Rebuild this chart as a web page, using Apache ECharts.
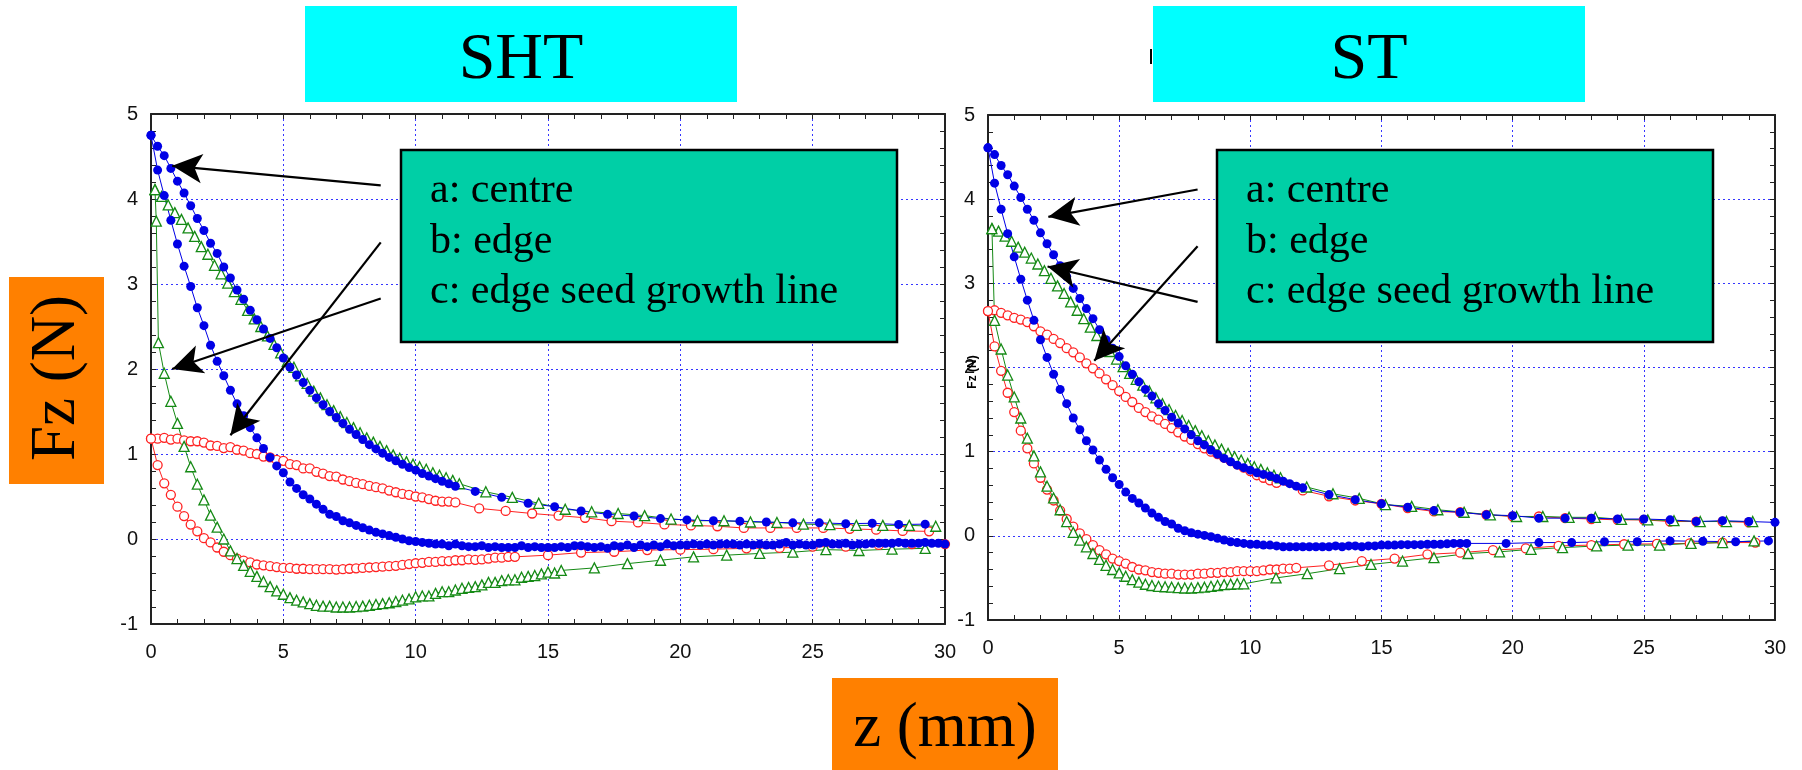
<!DOCTYPE html>
<html>
<head>
<meta charset="utf-8">
<script src="https://cdn.jsdelivr.net/npm/echarts/dist/echarts.min.js"></script>
<style>
  html, body { margin: 0; padding: 0; background: #fff; }
  #chart { width: 1802px; height: 770px; }
</style>
</head>
<body>
<div id="chart"></div>
<script>
// z (mm), Fz (N) pairs
const shtBlueSlow = [[0,4.75],[0.25,4.62],[0.5,4.51],[0.75,4.36],[1,4.21],[1.25,4.07],[1.5,3.92],[1.75,3.77],[2,3.63],[2.25,3.48],[2.5,3.36],[2.75,3.2],[3,3.07],[3.25,2.93],[3.5,2.82],[3.75,2.69],[4,2.58],[4.25,2.47],[4.5,2.36],[4.75,2.25],[5,2.13],[5.25,2.02],[5.5,1.93],[5.75,1.84],[6,1.75],[6.25,1.66],[6.5,1.58],[6.75,1.5],[7,1.43],[7.25,1.36],[7.5,1.29],[7.75,1.23],[8,1.17],[8.25,1.11],[8.5,1.06],[8.75,1.01],[9,0.96],[9.25,0.92],[9.5,0.88],[9.75,0.84],[10,0.81],[10.25,0.77],[10.5,0.74],[10.75,0.71],[11,0.68],[11.25,0.65],[11.5,0.62],[12.25,0.56],[13.25,0.49],[14.25,0.42],[15.25,0.38],[16.25,0.33],[17.25,0.29],[18.25,0.27],[19.25,0.24],[20.25,0.225],[21.25,0.215],[22.25,0.21],[23.25,0.2],[24.25,0.19],[25.25,0.19],[26.25,0.18],[27.25,0.185],[28.25,0.17],[29.25,0.175]];
const shtBlueFast = [[0,4.75],[0.25,4.34],[0.5,4.04],[0.75,3.75],[1,3.47],[1.25,3.21],[1.5,2.97],[1.75,2.72],[2,2.51],[2.25,2.28],[2.5,2.09],[2.75,1.92],[3,1.75],[3.25,1.59],[3.5,1.45],[3.75,1.31],[4,1.19],[4.25,1.065],[4.5,0.96],[4.75,0.86],[5,0.78],[5.25,0.67],[5.5,0.595],[5.75,0.52],[6,0.47],[6.25,0.41],[6.5,0.35],[6.75,0.29],[7,0.265],[7.25,0.215],[7.5,0.19],[7.75,0.16],[8,0.133],[8.25,0.105],[8.5,0.078],[8.75,0.06],[9,0.04],[9.25,0.02],[9.5,0],[9.75,-0.02],[10,-0.03],[10.25,-0.04],[10.5,-0.05],[10.75,-0.06],[11,-0.06],[11.25,-0.08],[11.5,-0.06],[11.75,-0.08],[12,-0.09],[12.25,-0.09],[12.5,-0.08],[12.75,-0.1],[13,-0.09],[13.25,-0.1],[13.5,-0.1],[13.75,-0.1],[14,-0.08],[14.25,-0.1],[14.5,-0.09],[14.75,-0.1],[15,-0.1],[15.25,-0.1],[15.5,-0.09],[15.75,-0.1],[16,-0.08],[16.25,-0.08],[16.5,-0.09],[16.75,-0.1],[17,-0.09],[17.25,-0.11],[17.5,-0.08],[17.75,-0.09],[18,-0.07],[18.25,-0.1],[18.5,-0.07],[18.75,-0.09],[19,-0.07],[19.25,-0.09],[19.5,-0.06],[19.75,-0.08],[20,-0.07],[20.25,-0.07],[20.5,-0.06],[20.75,-0.07],[21,-0.06],[21.25,-0.07],[21.5,-0.06],[21.75,-0.06],[22,-0.06],[22.25,-0.07],[22.5,-0.06],[22.75,-0.07],[23,-0.06],[23.25,-0.07],[23.5,-0.07],[23.75,-0.06],[24,-0.04],[24.25,-0.07],[24.5,-0.06],[24.75,-0.07],[25,-0.07],[25.25,-0.05],[25.5,-0.04],[25.75,-0.06],[26,-0.06],[26.25,-0.05],[26.5,-0.07],[26.75,-0.06],[27,-0.06],[27.25,-0.05],[27.5,-0.05],[27.75,-0.05],[28,-0.05],[28.25,-0.04],[28.5,-0.05],[28.75,-0.05],[29,-0.05],[29.25,-0.04],[29.5,-0.05],[29.75,-0.05],[30,-0.06]];
const shtGreenSlow = [[0.15,4.11],[0.4,4.03],[0.65,3.93],[0.9,3.84],[1.15,3.76],[1.4,3.66],[1.65,3.56],[1.9,3.44],[2.15,3.35],[2.4,3.22],[2.65,3.12],[2.9,3.01],[3.15,2.91],[3.4,2.82],[3.65,2.69],[3.9,2.59],[4.15,2.5],[4.4,2.39],[4.65,2.29],[4.9,2.19],[5.15,2.09],[5.4,2.02],[5.65,1.92],[5.9,1.83],[6.15,1.74],[6.4,1.66],[6.65,1.58],[6.9,1.51],[7.15,1.44],[7.4,1.37],[7.65,1.31],[7.9,1.25],[8.15,1.19],[8.4,1.14],[8.65,1.09],[8.9,1.04],[9.15,0.99],[9.4,0.95],[9.65,0.91],[9.9,0.88],[10.15,0.85],[10.4,0.82],[10.65,0.78],[10.9,0.75],[11.15,0.72],[11.4,0.69],[11.65,0.65],[12.65,0.555],[13.65,0.49],[14.65,0.42],[15.65,0.35],[16.65,0.32],[17.65,0.3],[18.65,0.275],[19.65,0.235],[20.65,0.215],[21.65,0.215],[22.65,0.2],[23.65,0.195],[24.65,0.175],[25.65,0.17],[26.65,0.16],[27.65,0.16],[28.65,0.16],[29.65,0.15]];
const shtGreenFast = [[0.15,4.11],[0.2,3.74],[0.28,2.31],[0.5,1.95],[0.75,1.62],[1,1.36],[1.25,1.09],[1.5,0.85],[1.75,0.645],[2,0.46],[2.25,0.28],[2.5,0.14],[2.75,0],[3,-0.14],[3.25,-0.23],[3.5,-0.31],[3.75,-0.38],[4,-0.44],[4.25,-0.5],[4.5,-0.56],[4.75,-0.61],[5,-0.65],[5.25,-0.69],[5.5,-0.72],[5.75,-0.74],[6,-0.76],[6.25,-0.78],[6.5,-0.79],[6.75,-0.79],[7,-0.8],[7.25,-0.8],[7.5,-0.8],[7.75,-0.795],[8,-0.79],[8.25,-0.78],[8.5,-0.77],[8.75,-0.76],[9,-0.75],[9.25,-0.735],[9.5,-0.72],[9.75,-0.705],[10,-0.68],[10.25,-0.67],[10.5,-0.67],[10.75,-0.64],[11,-0.62],[11.25,-0.62],[11.5,-0.6],[11.75,-0.58],[12,-0.57],[12.25,-0.56],[12.5,-0.54],[12.75,-0.51],[13,-0.51],[13.25,-0.49],[13.5,-0.48],[13.75,-0.48],[14,-0.45],[14.25,-0.44],[14.5,-0.43],[14.75,-0.41],[15,-0.39],[15.25,-0.4],[15.5,-0.37],[16.75,-0.34],[18,-0.29],[19.25,-0.25],[20.5,-0.21],[21.75,-0.19],[23,-0.17],[24.25,-0.155],[25.5,-0.125],[26.75,-0.135],[28,-0.12],[29.25,-0.11]];
const shtRedSlow = [[0,1.18],[0.25,1.18],[0.5,1.19],[0.75,1.17],[1,1.18],[1.25,1.16],[1.5,1.15],[1.75,1.15],[2,1.135],[2.25,1.1],[2.5,1.095],[2.75,1.07],[3,1.08],[3.25,1.05],[3.5,1.04],[3.75,1.01],[4,1],[4.25,0.97],[4.5,0.96],[4.75,0.93],[5,0.92],[5.25,0.88],[5.5,0.87],[5.75,0.83],[6,0.83],[6.25,0.79],[6.5,0.77],[6.75,0.74],[7,0.735],[7.25,0.7],[7.5,0.68],[7.75,0.66],[8,0.645],[8.25,0.625],[8.5,0.61],[8.75,0.595],[9,0.57],[9.25,0.55],[9.5,0.53],[9.75,0.52],[10,0.5],[10.25,0.49],[10.5,0.47],[10.75,0.45],[11,0.44],[11.25,0.44],[11.5,0.43],[12.4,0.36],[13.4,0.33],[14.4,0.3],[15.4,0.275],[16.4,0.25],[17.4,0.21],[18.4,0.195],[19.4,0.172],[20.4,0.16],[21.4,0.15],[22.4,0.13],[23.4,0.13],[24.4,0.13],[25.4,0.13],[26.4,0.12],[27.4,0.11],[28.4,0.095],[29.4,0.09]];
const shtRedFast = [[0,1.18],[0.25,0.87],[0.5,0.655],[0.75,0.52],[1,0.38],[1.25,0.27],[1.5,0.17],[1.75,0.09],[2,0.01],[2.25,-0.04],[2.5,-0.1],[2.75,-0.15],[3,-0.19],[3.25,-0.23],[3.5,-0.255],[3.75,-0.275],[4,-0.3],[4.25,-0.31],[4.5,-0.32],[4.75,-0.33],[5,-0.34],[5.25,-0.34],[5.5,-0.35],[5.75,-0.35],[6,-0.355],[6.25,-0.355],[6.5,-0.355],[6.75,-0.355],[7,-0.36],[7.25,-0.355],[7.5,-0.35],[7.75,-0.345],[8,-0.34],[8.25,-0.335],[8.5,-0.33],[8.75,-0.325],[9,-0.32],[9.25,-0.315],[9.5,-0.305],[9.75,-0.295],[10,-0.285],[10.25,-0.28],[10.5,-0.27],[10.75,-0.27],[11,-0.26],[11.25,-0.26],[11.5,-0.25],[11.75,-0.25],[12,-0.24],[12.25,-0.245],[12.5,-0.24],[12.75,-0.23],[13,-0.22],[13.25,-0.22],[13.5,-0.21],[13.75,-0.21],[15,-0.19],[16.25,-0.16],[17.5,-0.15],[18.75,-0.13],[20,-0.125],[21.25,-0.12],[22.5,-0.11],[23.75,-0.105],[25,-0.09],[26.25,-0.09],[27.5,-0.07],[28.75,-0.06],[30,-0.06]];

const stBlueSlow = [[0,4.61],[0.25,4.53],[0.5,4.4],[0.75,4.29],[1,4.155],[1.25,4.02],[1.5,3.88],[1.75,3.75],[2,3.6],[2.25,3.47],[2.5,3.34],[2.75,3.21],[3,3.08],[3.25,2.94],[3.5,2.82],[3.75,2.7],[4,2.58],[4.25,2.45],[4.5,2.33],[4.75,2.23],[5,2.13],[5.25,2.02],[5.5,1.92],[5.75,1.83],[6,1.74],[6.25,1.66],[6.5,1.57],[6.75,1.49],[7,1.41],[7.25,1.34],[7.5,1.27],[7.75,1.2],[8,1.13],[8.25,1.08],[8.5,1.02],[8.75,0.97],[9,0.92],[9.25,0.88],[9.5,0.84],[9.75,0.81],[10,0.78],[10.25,0.75],[10.5,0.73],[10.75,0.71],[11,0.68],[11.25,0.65],[11.5,0.62],[11.75,0.59],[12,0.57],[13,0.49],[14,0.43],[15,0.38],[16,0.34],[17,0.3],[18,0.28],[19,0.25],[20,0.24],[21,0.21],[22,0.21],[23,0.21],[24,0.2],[25,0.2],[26,0.19],[27,0.17],[28,0.18],[29,0.17],[30,0.16]];
const stBlueFast = [[0,4.61],[0.25,4.19],[0.5,3.88],[0.75,3.59],[1,3.315],[1.25,3.05],[1.5,2.8],[1.75,2.56],[2,2.33],[2.25,2.12],[2.5,1.92],[2.75,1.74],[3,1.57],[3.25,1.4],[3.5,1.26],[3.75,1.13],[4,1.02],[4.25,0.9],[4.5,0.79],[4.75,0.69],[5,0.61],[5.25,0.52],[5.5,0.445],[5.75,0.39],[6,0.33],[6.25,0.27],[6.5,0.22],[6.75,0.17],[7,0.14],[7.25,0.09],[7.5,0.06],[7.75,0.036],[8,0.02],[8.25,0.005],[8.5,-0.01],[8.75,-0.03],[9,-0.05],[9.25,-0.07],[9.5,-0.08],[9.75,-0.09],[10,-0.1],[10.25,-0.1],[10.5,-0.11],[10.75,-0.11],[11,-0.12],[11.25,-0.13],[11.5,-0.13],[11.75,-0.13],[12,-0.13],[12.25,-0.13],[12.5,-0.13],[12.75,-0.13],[13,-0.13],[13.25,-0.12],[13.5,-0.13],[13.75,-0.12],[14,-0.12],[14.25,-0.13],[14.5,-0.12],[14.75,-0.12],[15,-0.11],[15.25,-0.11],[15.5,-0.11],[15.75,-0.105],[16,-0.105],[16.25,-0.105],[16.5,-0.105],[16.75,-0.1],[17,-0.1],[17.25,-0.1],[17.5,-0.095],[17.75,-0.09],[18,-0.09],[18.25,-0.09],[19.75,-0.09],[21,-0.08],[22.25,-0.08],[23.5,-0.07],[24.75,-0.07],[26,-0.06],[27.25,-0.065],[28.5,-0.07],[29.75,-0.06]];
const stGreenSlow = [[0.15,3.65],[0.4,3.62],[0.65,3.56],[0.9,3.5],[1.15,3.43],[1.4,3.37],[1.65,3.3],[1.9,3.23],[2.15,3.15],[2.4,3.06],[2.65,2.97],[2.9,2.88],[3.15,2.78],[3.4,2.68],[3.65,2.58],[3.9,2.48],[4.15,2.38],[4.4,2.28],[4.65,2.19],[4.9,2.1],[5.15,2.01],[5.4,1.93],[5.65,1.86],[5.9,1.79],[6.15,1.72],[6.4,1.64],[6.65,1.57],[6.9,1.5],[7.15,1.43],[7.4,1.37],[7.65,1.31],[7.9,1.25],[8.15,1.19],[8.4,1.13],[8.65,1.08],[8.9,1.03],[9.15,0.98],[9.4,0.94],[9.65,0.9],[9.9,0.86],[10.15,0.82],[10.4,0.79],[10.65,0.75],[10.9,0.72],[11.15,0.69],[12.15,0.58],[13.15,0.5],[14.15,0.445],[15.15,0.37],[16.15,0.35],[17.15,0.31],[18.15,0.28],[19.15,0.25],[20.15,0.23],[21.15,0.23],[22.15,0.22],[23.15,0.22],[24.15,0.195],[25.15,0.19],[26.15,0.18],[27.15,0.17],[28.15,0.17],[29.15,0.17]];
const stGreenFast = [[0.15,3.65],[0.25,2.56],[0.5,2.22],[0.75,1.91],[1,1.65],[1.25,1.4],[1.5,1.16],[1.75,0.95],[2,0.76],[2.25,0.59],[2.5,0.45],[2.75,0.31],[3,0.17],[3.25,0.04],[3.5,-0.05],[3.75,-0.13],[4,-0.21],[4.25,-0.28],[4.5,-0.35],[4.75,-0.4],[5,-0.44],[5.25,-0.48],[5.5,-0.52],[5.75,-0.55],[6,-0.575],[6.25,-0.59],[6.5,-0.6],[6.75,-0.605],[7,-0.61],[7.25,-0.615],[7.5,-0.62],[7.75,-0.62],[8,-0.615],[8.25,-0.61],[8.5,-0.6],[8.75,-0.59],[9,-0.58],[9.25,-0.575],[9.5,-0.57],[9.75,-0.57],[10.98,-0.5],[12.17,-0.45],[13.4,-0.39],[14.6,-0.34],[15.8,-0.3],[17,-0.26],[18.3,-0.21],[19.5,-0.19],[20.7,-0.16],[21.9,-0.14],[23.2,-0.12],[24.4,-0.11],[25.6,-0.11],[26.8,-0.09],[28,-0.08],[29.2,-0.06]];
const stRedSlow = [[0,2.67],[0.25,2.68],[0.5,2.65],[0.75,2.62],[1,2.59],[1.25,2.57],[1.5,2.54],[1.75,2.49],[2,2.43],[2.25,2.39],[2.5,2.34],[2.75,2.29],[3,2.23],[3.25,2.18],[3.5,2.12],[3.75,2.05],[4,1.99],[4.25,1.93],[4.5,1.86],[4.75,1.79],[5,1.72],[5.25,1.65],[5.5,1.59],[5.75,1.52],[6,1.47],[6.25,1.42],[6.5,1.38],[6.75,1.33],[7,1.28],[7.25,1.23],[7.5,1.18],[7.75,1.14],[8,1.09],[8.25,1.04],[8.5,1],[8.75,0.97],[9,0.93],[9.25,0.89],[9.5,0.85],[9.75,0.81],[10,0.77],[10.25,0.72],[10.5,0.69],[10.75,0.66],[11,0.63],[12,0.54],[13,0.47],[14,0.42],[15,0.38],[16,0.33],[17,0.29],[18,0.28],[19,0.25],[20,0.23],[21,0.23],[22,0.21],[23,0.2],[24,0.19],[25,0.19],[26,0.17],[27,0.17],[28,0.17],[29,0.16]];
const stRedFast = [[0,2.67],[0.25,2.25],[0.5,1.96],[0.75,1.7],[1,1.47],[1.25,1.25],[1.5,1.04],[1.75,0.86],[2,0.69],[2.25,0.55],[2.5,0.42],[2.75,0.3],[3,0.2],[3.25,0.11],[3.5,0.03],[3.75,-0.04],[4,-0.11],[4.25,-0.17],[4.5,-0.22],[4.75,-0.27],[5,-0.3],[5.25,-0.33],[5.5,-0.37],[5.75,-0.4],[6,-0.41],[6.25,-0.43],[6.5,-0.44],[6.75,-0.45],[7,-0.45],[7.25,-0.46],[7.5,-0.46],[7.75,-0.46],[8,-0.45],[8.25,-0.45],[8.5,-0.44],[8.75,-0.44],[9,-0.43],[9.25,-0.43],[9.5,-0.42],[9.75,-0.42],[10,-0.42],[10.25,-0.42],[10.5,-0.41],[10.75,-0.4],[11,-0.4],[11.25,-0.39],[11.5,-0.39],[11.75,-0.38],[13,-0.35],[14.25,-0.3],[15.5,-0.27],[16.75,-0.22],[18,-0.2],[19.25,-0.17],[20.5,-0.15],[21.75,-0.12],[23,-0.11],[24.25,-0.1],[25.5,-0.095],[26.75,-0.09],[28,-0.08],[29.25,-0.08]];

// arrows: [tail, tip] in data coordinates of each panel
const shtArrows = [[[8.68,4.16],[0.8,4.39]], [[8.68,3.49],[3.0,1.22]], [[8.68,2.83],[0.8,2.0]]];
const stArrows  = [[[7.99,4.115],[2.3,3.79]], [[7.99,3.44],[4.05,2.08]], [[7.99,2.78],[2.27,3.2]]];

const legendLines = ['a: centre', 'b: edge', 'c: edge seed growth line'];
const xTicks = [0, 30, 5];   // min, max, step
const yTicks = [-1, 5, 1];

const BLUE = '#0000e6', RED = '#ff2222', GREEN = '#158a15';
const AXIS = '#222';
const serif = 'Liberation Serif';
const sans = 'Liberation Sans';

function xAxes(gi) {
  const base = {
    gridIndex: gi, type: 'value', min: xTicks[0], max: xTicks[1], interval: xTicks[2],
    axisLine: { show: true, onZero: false, lineStyle: { color: AXIS, width: 2 } },
    axisTick: { show: true, inside: true, length: 5, lineStyle: { color: AXIS } },
    minorTick: { show: true, splitNumber: 5, length: 5, lineStyle: { color: AXIS } },
  };
  return [
    Object.assign({}, base, {
      position: 'bottom',
      axisLabel: { fontFamily: sans, fontSize: 20, color: '#111', margin: 18 },
      splitLine: { show: true, lineStyle: { color: '#3535ff', type: [2, 3], width: 1 } }
    }),
    Object.assign({}, base, {
      position: 'top', axisLabel: { show: false }, splitLine: { show: false }
    })
  ];
}
function yAxes(gi) {
  const base = {
    gridIndex: gi, type: 'value', min: yTicks[0], max: yTicks[1], interval: yTicks[2],
    axisLine: { show: true, onZero: false, lineStyle: { color: AXIS, width: 2 } },
    axisTick: { show: true, inside: true, length: 5, lineStyle: { color: AXIS } },
    minorTick: { show: true, splitNumber: 5, length: 5, lineStyle: { color: AXIS } },
  };
  return [
    Object.assign({}, base, {
      position: 'left',
      axisLabel: { fontFamily: sans, fontSize: 20, color: '#111', margin: 13 },
      splitLine: { show: true, lineStyle: { color: '#3535ff', type: [2, 3], width: 1 } }
    }),
    Object.assign({}, base, {
      position: 'right', axisLabel: { show: false }, splitLine: { show: false }
    })
  ];
}

function curve(data, color, symbol, size, filled, axis) {
  return {
    type: 'line', data: data, xAxisIndex: axis, yAxisIndex: axis,
    symbol: symbol, symbolSize: size, showAllSymbol: true,
    lineStyle: { color: color, width: 1 },
    itemStyle: { color: filled ? color : '#fff', borderColor: color, borderWidth: filled ? 0 : 1.3 },
    emphasis: { disabled: true }, animation: false, silent: true
  };
}
function arrowSeries(arrows, axis) {
  return {
    type: 'line', data: [], xAxisIndex: axis, yAxisIndex: axis, silent: true, animation: false,
    markLine: {
      silent: true, animation: false, symbol: ['none', 'arrow'], symbolSize: [22, 30],
      label: { show: false }, emphasis: { disabled: true },
      lineStyle: { color: '#000', width: 2.2, type: 'solid' },
      data: arrows.map(a => [{ coord: a[0] }, { coord: a[1] }])
    }
  };
}
function panel(set, axis) {
  return [
    curve(set.redSlow, RED, 'circle', 9, false, axis),
    curve(set.redFast, RED, 'circle', 9, false, axis),
    curve(set.greenSlow, GREEN, 'triangle', 10, false, axis),
    curve(set.greenFast, GREEN, 'triangle', 10, false, axis),
    curve(set.blueFast, BLUE, 'circle', 9, true, axis),
    curve(set.blueSlow, BLUE, 'circle', 9, true, axis),
    arrowSeries(set.arrows, axis)
  ];
}

function legendBox(left) {
  return [
    { type: 'rect', shape: { x: left, y: 150, width: 496, height: 192 }, z: 100,
      style: { fill: '#00cfa6', stroke: '#000', lineWidth: 2.5 } }
  ].concat(legendLines.map((t, i) => ({
    type: 'text', x: left + 29, y: 191 + i * 50.5, z: 101,
    style: { text: t, font: '42px "' + serif + '"', fill: '#000', textVerticalAlign: 'middle' }
  })));
}

const chart = echarts.init(document.getElementById('chart'), null, { renderer: 'canvas' });
chart.setOption({
  backgroundColor: '#fff',
  animation: false,
  grid: [
    { left: 151, top: 114, width: 794, height: 510 },
    { left: 988, top: 115, width: 787, height: 505 }
  ],
  xAxis: xAxes(0).concat(xAxes(1)),
  yAxis: yAxes(0).concat(yAxes(1)),
  series: panel({ redSlow: shtRedSlow, redFast: shtRedFast, greenSlow: shtGreenSlow, greenFast: shtGreenFast,
                  blueSlow: shtBlueSlow, blueFast: shtBlueFast, arrows: shtArrows }, 0)
    .concat(panel({ redSlow: stRedSlow, redFast: stRedFast, greenSlow: stGreenSlow, greenFast: stGreenFast,
                    blueSlow: stBlueSlow, blueFast: stBlueFast, arrows: stArrows }, 2)),
  graphic: [
    // panel titles
    { type: 'rect', shape: { x: 305, y: 6, width: 432, height: 96 }, z: 100, style: { fill: '#00ffff' } },
    { type: 'text', x: 521, y: 61, z: 101,
      style: { text: 'SHT', font: '66px "' + serif + '"', fill: '#000', textAlign: 'center', textVerticalAlign: 'middle' } },
    { type: 'rect', shape: { x: 1153, y: 6, width: 432, height: 96 }, z: 100, style: { fill: '#00ffff' } },
    { type: 'text', x: 1369, y: 61, z: 101,
      style: { text: 'ST', font: '66px "' + serif + '"', fill: '#000', textAlign: 'center', textVerticalAlign: 'middle' } },
    { type: 'rect', shape: { x: 1150, y: 49, width: 2, height: 15 }, z: 100, style: { fill: '#000' } },
    // axis names
    { type: 'rect', shape: { x: 9, y: 277, width: 95, height: 207 }, z: 100, style: { fill: '#ff8000' } },
    { type: 'text', x: 57, y: 378, rotation: Math.PI / 2, z: 101,
      style: { text: 'Fz (N)', font: '63px "' + serif + '"', fill: '#000', textAlign: 'center', textVerticalAlign: 'middle' } },
    { type: 'rect', shape: { x: 832, y: 678, width: 226, height: 92 }, z: 100, style: { fill: '#ff8000' } },
    { type: 'text', x: 945, y: 729, z: 101,
      style: { text: 'z (mm)', font: '63px "' + serif + '"', fill: '#000', textAlign: 'center', textVerticalAlign: 'middle' } },
    { type: 'text', x: 973, y: 372, rotation: Math.PI / 2, z: 101,
      style: { text: 'Fz (N)', font: 'bold 12px "' + sans + '"', fill: '#000', textAlign: 'center', textVerticalAlign: 'middle' } }
  ].concat(legendBox(401)).concat(legendBox(1217))
});
</script>
</body>
</html>
